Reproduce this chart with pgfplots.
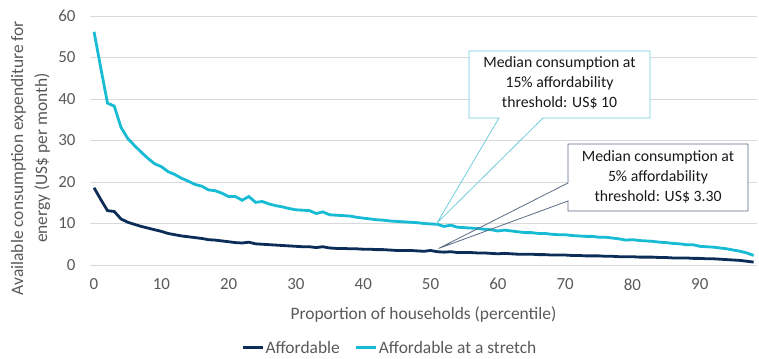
\documentclass[border=0pt]{standalone}
\usepackage{fontspec}
\setmainfont{Carlito}
\usepackage{pgfplots}
\usepackage{pgfplotstable}
\pgfplotsset{compat=1.18}
\definecolor{navy}{HTML}{0C2D57}
\definecolor{cyanl}{HTML}{17BBD3}
\definecolor{gridc}{HTML}{D9D9D9}
\definecolor{txt}{HTML}{595959}
\definecolor{box1}{HTML}{6FCDDD}
\definecolor{box2}{HTML}{5A6B85}

\pgfplotstableread{
x aff str
0 18.6 56.2
1 15.8 47.5
2 13.1 39.0
3 12.9 38.3
4 11.1 33.2
5 10.3 30.5
6 9.8 28.8
7 9.3 27.2
8 8.9 25.7
9 8.5 24.4
10 8.1 23.7
11 7.6 22.5
12 7.3 21.8
13 7.0 20.9
14 6.8 20.2
15 6.6 19.4
16 6.4 19.0
17 6.1 18.1
18 6.0 17.9
19 5.8 17.3
20 5.6 16.5
21 5.4 16.5
22 5.3 15.6
23 5.5 16.5
24 5.1 15.1
25 5.0 15.3
26 4.9 14.7
27 4.8 14.3
28 4.7 14.0
29 4.6 13.6
30 4.5 13.3
31 4.4 13.2
32 4.4 13.1
33 4.2 12.4
34 4.4 12.8
35 4.1 12.1
36 4.0 12.0
37 4.0 11.9
38 3.9 11.8
39 3.9 11.5
40 3.8 11.3
41 3.8 11.1
42 3.7 10.9
43 3.7 10.8
44 3.6 10.6
45 3.5 10.5
46 3.5 10.4
47 3.5 10.3
48 3.4 10.2
49 3.3 10.0
50 3.5 9.9
51 3.2 9.8
52 3.1 9.3
53 3.2 9.6
54 3.0 9.1
55 3.0 9.0
56 3.0 8.9
57 2.9 8.8
58 2.9 8.6
59 2.8 8.5
60 2.7 8.2
61 2.8 8.4
62 2.7 8.2
63 2.6 8.0
64 2.6 7.8
65 2.6 7.8
66 2.5 7.6
67 2.5 7.6
68 2.4 7.4
69 2.4 7.3
70 2.4 7.3
71 2.3 7.1
72 2.3 7.0
73 2.2 6.9
74 2.2 6.9
75 2.2 6.7
76 2.1 6.7
77 2.1 6.5
78 2.0 6.3
79 2.0 6.0
80 2.0 6.1
81 1.9 5.9
82 1.9 5.8
83 1.9 5.7
84 1.8 5.5
85 1.8 5.4
86 1.7 5.2
87 1.7 5.1
88 1.7 4.9
89 1.6 4.9
90 1.6 4.5
91 1.5 4.4
92 1.5 4.3
93 1.4 4.1
94 1.3 3.9
95 1.2 3.6
96 1.1 3.3
97 0.9 2.9
98 0.7 2.3
}\datatable

\begin{document}
\begin{tikzpicture}
\useasboundingbox (0bp,0bp) rectangle (759bp,359bp);
\begin{axis}[
  at={(90bp,94bp)}, anchor=south west,
  scale only axis, width=667bp, height=249bp,
  xmin=-0.6, xmax=98.5, ymin=0, ymax=60,
  xtick={0,10,...,90}, ytick={0,10,...,60},
  axis line style={draw=none},
  major tick length=0pt,
  ymajorgrids, grid style={gridc, line width=0.9bp},
  /pgf/number format/assume math mode=true,
  tick label style={font=\fontsize{17}{20}\selectfont, text=txt},
  xticklabel style={yshift=-10bp},
  yticklabel style={xshift=-11bp},
  xlabel={Proportion of households (percentile)},
  xlabel style={font=\fontsize{17.5}{20}\selectfont, text=txt, at={(axis description cs:0.5,-0.197)}, anchor=center},
  legend columns=2,
  legend style={draw=none, fill=none, at={(axis description cs:0.449,-0.333)}, anchor=center,
    font=\fontsize{17.5}{20}\selectfont, text=txt,
    /tikz/every even column/.append style={column sep=14bp},
    nodes={inner xsep=1bp}},
  legend image code/.code={\draw[#1, line width=3bp] (0bp,0bp) -- (20bp,0bp);},
]
\addplot[navy, line width=2.8bp] table[x=x, y=aff] {\datatable};
\addlegendentry{Affordable}
\addplot[cyanl, line width=2.8bp] table[x=x, y=str] {\datatable};
\addlegendentry{Affordable at a stretch}
\end{axis}
% y label
\node[rotate=90, align=center, text=txt, font=\fontsize{17.5}{24}\selectfont] at (30.5bp,201bp)
  {Available consumption expenditure for\\energy (US\$ per month)};
% callout 1
\fill[white] (469bp,241bp) rectangle (650bp,308bp);
\draw[box1, line width=0.8bp] (437bp,136bp) -- (499bp,241bp) -- (469bp,241bp) -- (469bp,308bp) -- (650bp,308bp) -- (650bp,241bp) -- (543bp,241bp) -- cycle;
\node[align=center, font=\fontsize{15.8}{20}\selectfont, text=black!90] at (559.5bp,276bp)
  {Median consumption at\\15\% affordability\\threshold: US\$ 10};
% callout 2
\fill[white] (568bp,148bp) rectangle (748bp,215bp);
\draw[box2, line width=0.8bp] (438.5bp,110.5bp) -- (568bp,176bp) -- (568bp,215bp) -- (748bp,215bp) -- (748bp,148bp) -- (568bp,148bp) -- (568bp,158bp) -- cycle;
\node[align=center, font=\fontsize{15.8}{20}\selectfont, text=black!90] at (658bp,182bp)
  {Median consumption at\\5\% affordability\\threshold: US\$ 3.30};
\end{tikzpicture}
\end{document}
